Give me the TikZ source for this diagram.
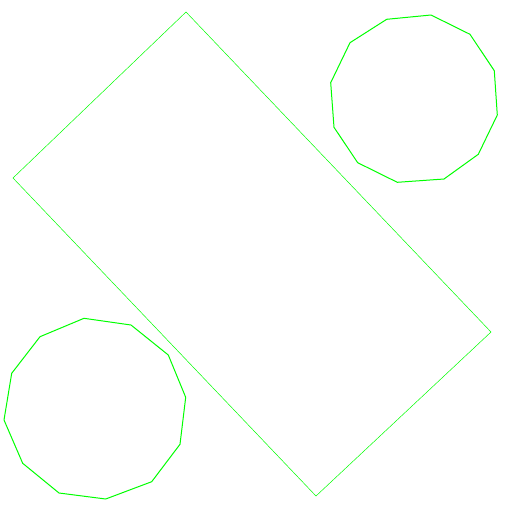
\documentclass[tikz,border=0pt]{standalone}
\begin{document}
\begin{tikzpicture}[x=1pt,y=-1pt,
  rectline/.style={draw=green, line width=0.5pt, line join=miter},
  polyline/.style={draw=green, line width=1pt, line join=round}]
\useasboundingbox (0,0) rectangle (512,512);
\fill[white] (0,0) rectangle (512,512);
% rotated rectangle
\coordinate (r1) at (186,12);
\coordinate (r2) at (491,332);
\coordinate (r3) at (316,496);
\coordinate (r4) at (13,178);
\draw[rectline] (r1) -- (r2) -- (r3) -- (r4) -- cycle;
% top-right 12-gon
\draw[polyline] (386.7,19.3) -- (431,15) -- (470,34.3) -- (494.3,70.7) -- (497.3,115) -- (478.3,154.3) -- (444,179) -- (397.3,182.3) -- (357.7,162.7) -- (334,127.3) -- (330.7,82.7) -- (350,42.7) -- cycle;
% bottom-left 12-gon
\draw[polyline] (84,318.3) -- (131,325) -- (168.3,355) -- (185.7,397.3) -- (180,444.3) -- (151.7,481.7) -- (105.7,499) -- (59,493) -- (22.7,463.3) -- (4,420) -- (11.7,373.3) -- (40,336.7) -- cycle;
\end{tikzpicture}
\end{document}
